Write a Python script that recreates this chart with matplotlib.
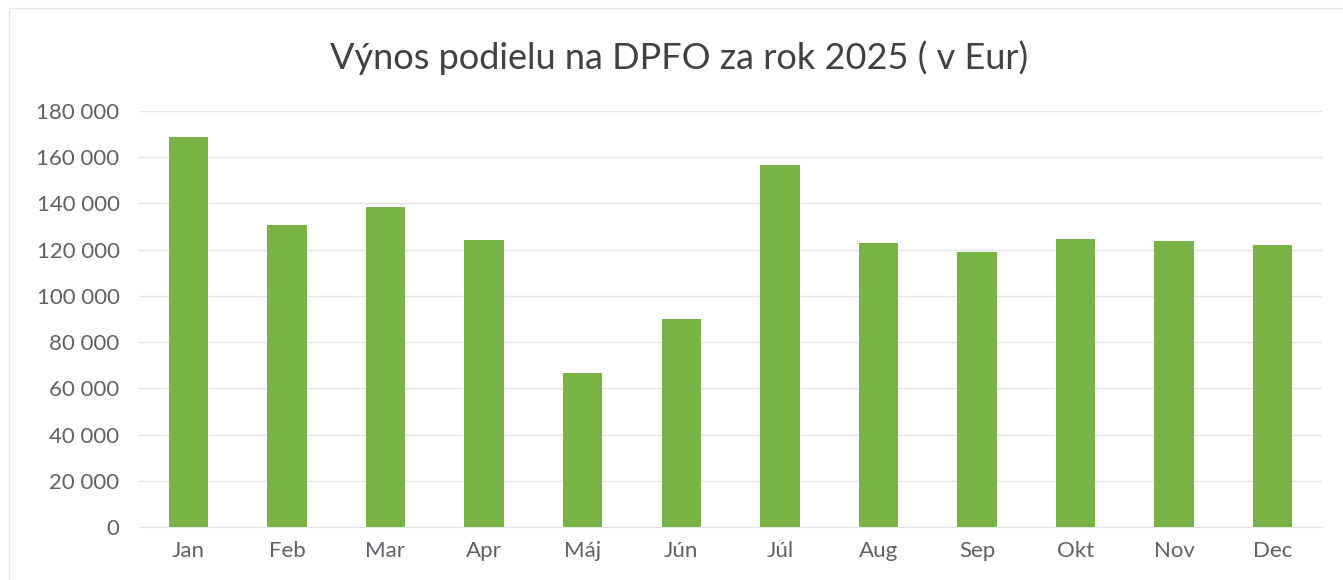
import matplotlib.pyplot as plt
from matplotlib.ticker import FuncFormatter
from matplotlib.patches import Rectangle

months = ['Jan', 'Feb', 'Mar', 'Apr', 'Máj', 'Jún', 'Júl', 'Aug', 'Sep', 'Okt', 'Nov', 'Dec']
values = [168900, 130500, 138500, 124100, 66600, 90200, 156500, 123100, 118900, 124800, 123900, 121900]
y_ticks = list(range(0, 180001, 20000))

plt.rcParams['font.family'] = ['Lato', 'DejaVu Sans']

fig = plt.figure(figsize=(13.43, 5.8), dpi=100)
ax = fig.add_axes([0.1035, 0.0914, 0.8809, 0.7172])

ax.bar(range(len(months)), values, width=0.4, color='#78b443', zorder=3)

ax.set_xlim(-0.5, len(months) - 0.5)
ax.set_ylim(0, 180000)
ax.set_yticks(y_ticks)
ax.yaxis.set_major_formatter(FuncFormatter(lambda v, p: f'{int(v):,}'.replace(',', ' ')))
ax.set_xticks(range(len(months)))
ax.set_xticklabels(months)

ax.grid(axis='y', color='#e3e3ea', linewidth=1, zorder=0)
for s in ax.spines.values():
    s.set_visible(False)
ax.spines['bottom'].set_visible(True)
ax.spines['bottom'].set_color('#e3e3ea')
ax.tick_params(axis='both', length=0, labelsize=16, colors='#5f5f66')
ax.tick_params(axis='x', pad=10)
ax.tick_params(axis='y', pad=14)

fig.text(0.506, 0.9, 'Výnos podielu na DPFO za rok 2025 ( v Eur)', ha='center', va='center',
         fontsize=26, color='#404045')

# faint chart border
fig.patches.append(Rectangle((0.007, -0.01), 1.0, 0.996, transform=fig.transFigure,
                             fill=False, edgecolor='#e6e6ee', linewidth=1))

fig.savefig('out.png', dpi=100)
